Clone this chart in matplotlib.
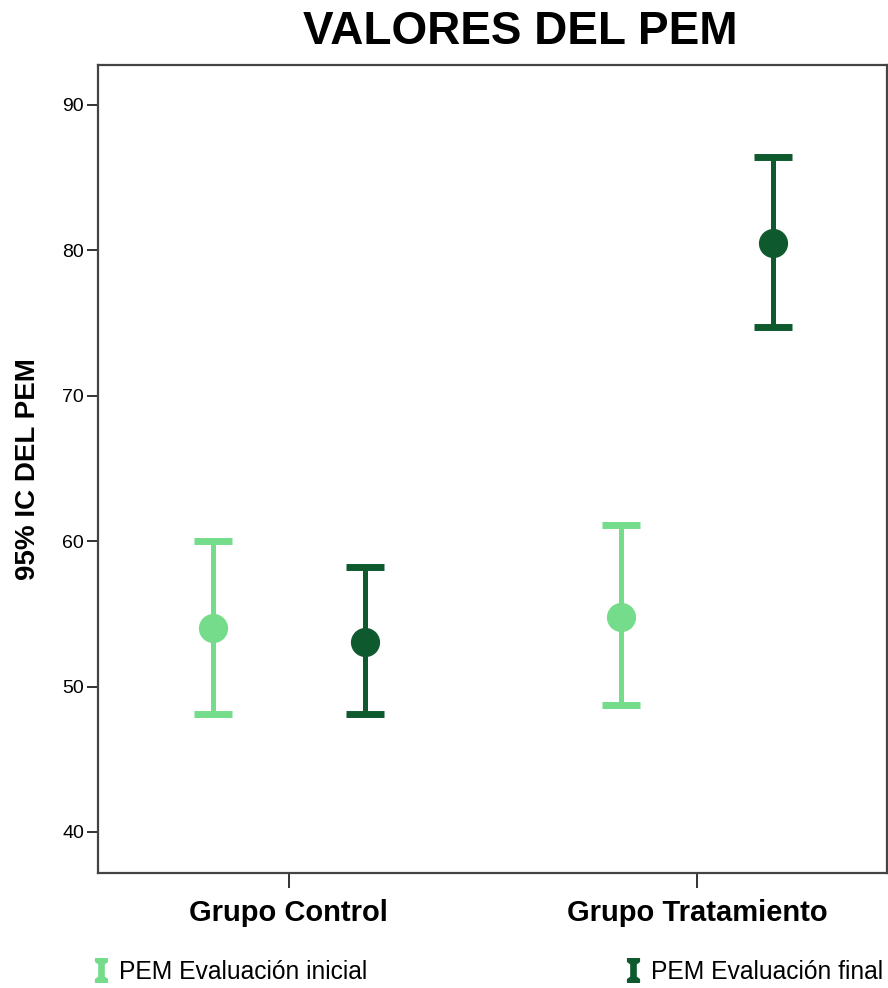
import numpy as np
import matplotlib.pyplot as plt
from matplotlib.path import Path
from matplotlib.lines import Line2D

plt.rcParams['font.family'] = ['Liberation Sans', 'DejaVu Sans']

# data
groups = ['Grupo Control', 'Grupo Tratamiento']
series = ['PEM Evaluación inicial', 'PEM Evaluación final']
mean_inicial = [54.0, 54.8]
low_inicial = [48.1, 48.7]
high_inicial = [60.0, 61.1]
mean_final = [53.1, 80.5]
low_final = [48.1, 74.7]
high_final = [58.2, 86.4]
yticks = [40, 50, 60, 70, 80, 90]

colors = ['#74dc8a', '#0e5a2e']

fig = plt.figure(figsize=(8.88, 9.88), dpi=100)
ax = fig.add_axes([98 / 888, 1 - 873 / 988, 789 / 888, 808 / 988])

x = np.arange(len(groups))
offset = 0.186
data = [(mean_inicial, low_inicial, high_inicial), (mean_final, low_final, high_final)]
for i, (m, lo, hi) in enumerate(data):
    m = np.array(m)
    err = [m - np.array(lo), np.array(hi) - m]
    ax.errorbar(x + (i * 2 - 1) * offset, m, yerr=err, fmt='o', color=colors[i],
                markersize=20, elinewidth=3.6, capsize=13.5, capthick=5, zorder=3)

ax.set_xlim(-0.468, 1.466)
ax.set_ylim(37.18, 92.75)
ax.set_yticks(yticks)
ax.set_xticks(x)
ax.set_xticklabels(groups, fontsize=21, fontweight='bold')
ax.tick_params(axis='y', labelsize=14, length=8, width=1.4, color='#333333', pad=2)
ax.tick_params(axis='x', length=11, width=1.4, color='#333333', pad=8)
for s in ax.spines.values():
    s.set_color('#444444')
    s.set_linewidth(1.6)

ax.set_ylabel('95% IC DEL PEM', fontsize=20, fontweight='bold', labelpad=15)
fig.text(520 / 888, 1 - 32 / 988, 'VALORES DEL PEM', fontsize=33, fontweight='bold',
         ha='center', va='center')

# I-beam legend icon
verts = [(-0.5, 1), (0.5, 1), (0.5, 0.75), (0.22, 0.55), (0.22, -0.55), (0.5, -0.75),
         (0.5, -1), (-0.5, -1), (-0.5, -0.75), (-0.22, -0.55), (-0.22, 0.55), (-0.5, 0.75),
         (-0.5, 1)]
ibeam = Path(verts, closed=True)
handles = [Line2D([], [], linestyle='none', marker=ibeam, markersize=17,
                  markerfacecolor=c, markeredgecolor=c) for c in colors]
fig.legend(handles, series, loc='center left', bbox_to_anchor=(81 / 888, 1 - 972 / 988),
           ncol=2, frameon=False, fontsize=17.7, handlelength=0.6, handletextpad=0.45,
           columnspacing=10.5, borderpad=0)

fig.savefig('out.png', dpi=100)
